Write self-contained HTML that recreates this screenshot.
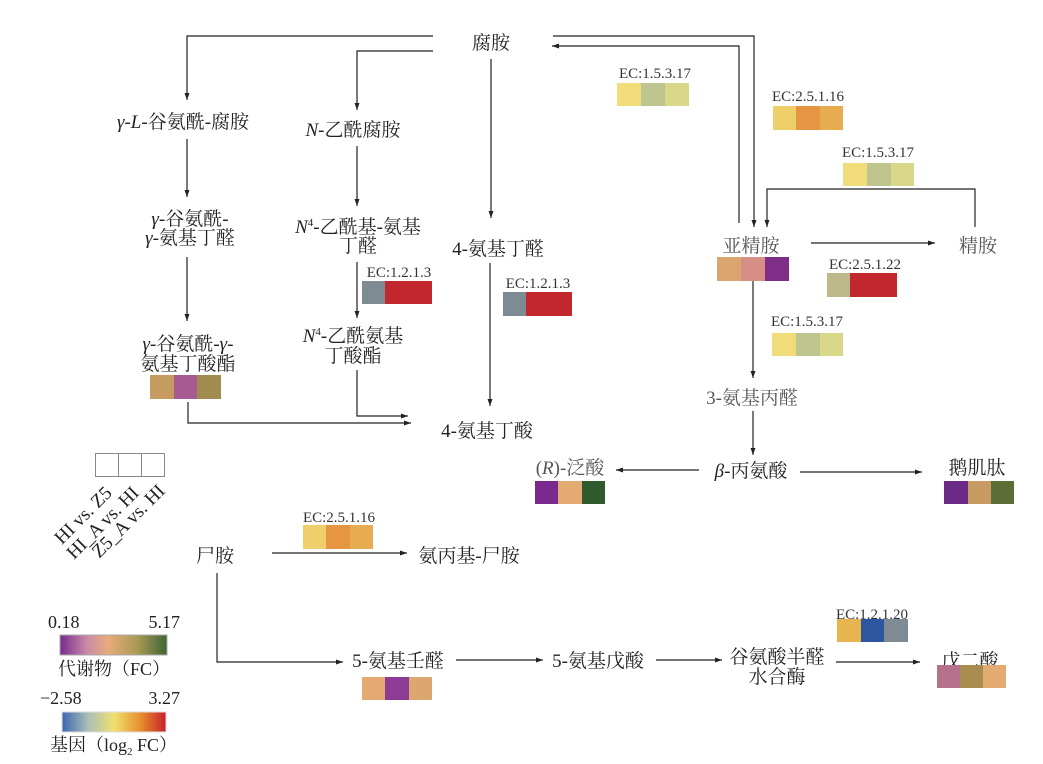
<!DOCTYPE html>
<html><head><meta charset="utf-8"><style>
html,body{margin:0;padding:0;background:#fff;}
svg{display:block;}
text{font-family:"Liberation Serif","Noto Serif CJK SC",serif;fill:#222;}
.n{font-size:19px;text-anchor:middle;}
.g{fill:#555;}
.ec{font-size:15px;text-anchor:middle;fill:#333;}
.lg{font-size:18px;}
.rl{font-size:19px;text-anchor:end;}
</style></head><body>
<svg width="1043" height="764" viewBox="0 0 1043 764" xmlns="http://www.w3.org/2000/svg">
<defs>
<marker id="a" markerWidth="8" markerHeight="8" refX="7" refY="4" orient="auto" markerUnits="userSpaceOnUse">
<path d="M0,1.5 L7,4 L0,6.5 Z" fill="#222"/></marker>
<linearGradient id="gm" x1="0" x2="1" y1="0" y2="0">
<stop offset="0" stop-color="#7a2a8c"/><stop offset="0.25" stop-color="#c98aa8"/><stop offset="0.45" stop-color="#e8ab7a"/><stop offset="0.72" stop-color="#a99a55"/><stop offset="1" stop-color="#3d6535"/></linearGradient>
<linearGradient id="gg" x1="0" x2="1" y1="0" y2="0">
<stop offset="0" stop-color="#3a66b0"/><stop offset="0.25" stop-color="#a9bfb9"/><stop offset="0.5" stop-color="#f0e070"/><stop offset="0.75" stop-color="#e8902e"/><stop offset="1" stop-color="#c8202a"/></linearGradient>
</defs>
<g fill="none" stroke="#222" stroke-width="1.2">
<polyline points="433,36 187,36 187,100" marker-end="url(#a)"/>
<polyline points="433,51 357,51 357,110" marker-end="url(#a)"/>
<line x1="491" y1="59" x2="491" y2="218" marker-end="url(#a)"/>
<line x1="187" y1="139" x2="187" y2="197" marker-end="url(#a)"/>
<line x1="187" y1="257" x2="187" y2="321" marker-end="url(#a)"/>
<polyline points="188,402 188,423 411,423" marker-end="url(#a)"/>
<line x1="357" y1="146" x2="357" y2="206" marker-end="url(#a)"/>
<line x1="357" y1="262" x2="357" y2="318" marker-end="url(#a)"/>
<polyline points="357,370 357,416 408,416" marker-end="url(#a)"/>
<line x1="490" y1="263" x2="490" y2="406" marker-end="url(#a)"/>
<polyline points="553,36 754,36 754,227" marker-end="url(#a)"/>
<polyline points="739,223 739,46 552,46" marker-end="url(#a)"/>
<polyline points="975,227 975,189 767,189 767,227" marker-end="url(#a)"/>
<line x1="811" y1="243" x2="935" y2="243" marker-end="url(#a)"/>
<line x1="753" y1="281" x2="753" y2="378" marker-end="url(#a)"/>
<line x1="753" y1="411" x2="753" y2="455" marker-end="url(#a)"/>
<line x1="699" y1="470" x2="616" y2="470" marker-end="url(#a)"/>
<line x1="800" y1="472" x2="922" y2="472" marker-end="url(#a)"/>
<line x1="272" y1="553" x2="407" y2="553" marker-end="url(#a)"/>
<polyline points="217,573 217,662 343,662" marker-end="url(#a)"/>
<line x1="456" y1="660" x2="543" y2="660" marker-end="url(#a)"/>
<line x1="656" y1="660" x2="722" y2="660" marker-end="url(#a)"/>
<line x1="836" y1="662" x2="920" y2="662" marker-end="url(#a)"/>
</g>

<!-- bars -->
<g stroke="none">
<rect x="150" y="375" width="24" height="24" fill="#c59b5f"/><rect x="174" y="375" width="23" height="24" fill="#a85a92"/><rect x="197" y="375" width="24" height="24" fill="#a08c4e"/>
<rect x="362" y="281" width="23" height="23" fill="#7f8b93"/><rect x="385" y="281" width="47" height="23" fill="#c1272d"/>
<rect x="503" y="292" width="23" height="24" fill="#7f8b93"/><rect x="526" y="292" width="46" height="24" fill="#c1272d"/>
<rect x="617" y="83" width="24" height="23" fill="#f0dc78"/><rect x="641" y="83" width="24" height="23" fill="#bfc58f"/><rect x="665" y="83" width="24" height="23" fill="#d9d88a"/>
<rect x="773" y="106" width="23" height="24" fill="#efcf6a"/><rect x="796" y="106" width="24" height="24" fill="#e69642"/><rect x="820" y="106" width="23" height="24" fill="#e8ac50"/>
<rect x="843" y="163" width="24" height="23" fill="#f0dc78"/><rect x="867" y="163" width="24" height="23" fill="#bfc58f"/><rect x="891" y="163" width="23" height="23" fill="#d9d88a"/>
<rect x="717" y="257" width="24" height="24" fill="#dba56f"/><rect x="741" y="257" width="24" height="24" fill="#d78e86"/><rect x="765" y="257" width="24" height="24" fill="#7f2e88"/>
<rect x="827" y="273" width="23" height="24" fill="#bdb88a"/><rect x="850" y="273" width="47" height="24" fill="#c1272d"/>
<rect x="772" y="333" width="24" height="23" fill="#f0dc78"/><rect x="796" y="333" width="24" height="23" fill="#bfc58f"/><rect x="820" y="333" width="23" height="23" fill="#d9d88a"/>
<rect x="535" y="481" width="23" height="23" fill="#7a2a8c"/><rect x="558" y="481" width="24" height="23" fill="#e3ab72"/><rect x="582" y="481" width="23" height="23" fill="#2e5a2e"/>
<rect x="944" y="481" width="24" height="23" fill="#6b2a85"/><rect x="968" y="481" width="23" height="23" fill="#c89b62"/><rect x="991" y="481" width="23" height="23" fill="#5a6e35"/>
<rect x="837" y="619" width="24" height="23" fill="#e8b450"/><rect x="861" y="619" width="23" height="23" fill="#2e55a0"/><rect x="884" y="619" width="24" height="23" fill="#7f8b93"/>
<rect x="303" y="525" width="23" height="24" fill="#efcf6a"/><rect x="326" y="525" width="24" height="24" fill="#e69642"/><rect x="350" y="525" width="23" height="24" fill="#e8ac50"/>
<rect x="362" y="677" width="23" height="23" fill="#e3aa72"/><rect x="385" y="677" width="24" height="23" fill="#8c3c94"/><rect x="409" y="677" width="23" height="23" fill="#dca670"/>
</g>
<g fill="none" stroke="#888" stroke-width="1">
<rect x="95.5" y="453.5" width="23" height="23"/><rect x="118.5" y="453.5" width="23" height="23"/><rect x="141.5" y="453.5" width="23" height="23"/>
</g>

<!-- node labels -->
<text class="n" x="491" y="49">腐胺</text>
<text class="n" x="183" y="128"><tspan font-style="italic">γ</tspan>-<tspan font-style="italic">L</tspan>-谷氨酰-腐胺</text>
<text class="n" x="353" y="136"><tspan font-style="italic">N</tspan>-乙酰腐胺</text>
<text class="n" x="190" y="225"><tspan font-style="italic">γ</tspan>-谷氨酰-</text>
<text class="n" x="190" y="244"><tspan font-style="italic">γ</tspan>-氨基丁醛</text>
<text class="n" x="358" y="233"><tspan font-style="italic">N</tspan><tspan font-size="11" dy="-7">4</tspan><tspan dy="7">-乙酰基-氨基</tspan></text>
<text class="n" x="358" y="252">丁醛</text>
<text class="n" x="498" y="255">4-氨基丁醛</text>
<text class="n" x="188" y="350"><tspan font-style="italic">γ</tspan>-谷氨酰-<tspan font-style="italic">γ</tspan>-</text>
<text class="n" x="188" y="370">氨基丁酸酯</text>
<text class="n" x="353" y="342"><tspan font-style="italic">N</tspan><tspan font-size="11" dy="-7">4</tspan><tspan dy="7">-乙酰氨基</tspan></text>
<text class="n" x="353" y="362">丁酸酯</text>
<text class="n" x="487" y="437">4-氨基丁酸</text>
<text class="n g" x="751" y="252">亚精胺</text>
<text class="n g" x="978" y="252">精胺</text>
<text class="n g" x="752" y="404">3-氨基丙醛</text>
<text class="n" x="751" y="477"><tspan font-style="italic">β</tspan>-丙氨酸</text>
<text class="n g" x="570" y="474">(<tspan font-style="italic">R</tspan>)-泛酸</text>
<text class="n" x="977" y="474">鹅肌肽</text>
<text class="n" x="215" y="562">尸胺</text>
<text class="n" x="469" y="562">氨丙基-尸胺</text>
<text class="n" x="398" y="667">5-氨基壬醛</text>
<text class="n" x="598" y="667">5-氨基戊酸</text>
<text class="n" x="777" y="663">谷氨酸半醛</text>
<text class="n" x="777" y="683">水合酶</text>
<text class="n" x="970" y="667">戊二酸</text>
<g stroke="none">
<rect x="937" y="665" width="23" height="23" fill="#b5708a"/><rect x="960" y="665" width="23" height="23" fill="#a88c50"/><rect x="983" y="665" width="23" height="23" fill="#e3aa72"/>
</g>

<!-- EC labels -->
<text class="ec" x="399" y="277">EC:1.2.1.3</text>
<text class="ec" x="538" y="288">EC:1.2.1.3</text>
<text class="ec" x="655" y="78">EC:1.5.3.17</text>
<text class="ec" x="808" y="101">EC:2.5.1.16</text>
<text class="ec" x="878" y="157">EC:1.5.3.17</text>
<text class="ec" x="865" y="269">EC:2.5.1.22</text>
<text class="ec" x="807" y="326">EC:1.5.3.17</text>
<text class="ec" x="339" y="522">EC:2.5.1.16</text>
<text class="ec" x="872" y="619">EC:1.2.1.20</text>

<!-- rotated legend labels -->
<text class="rl" transform="translate(113,494) rotate(-45)">HI vs. Z5</text>
<text class="rl" transform="translate(140,494) rotate(-45)">HI_A vs. HI</text>
<text class="rl" transform="translate(166,492) rotate(-45)">Z5_A vs. HI</text>

<!-- legend -->
<text class="lg" x="48" y="628">0.18</text>
<text class="lg" x="180" y="628" text-anchor="end">5.17</text>
<rect x="60" y="635" width="107" height="20" fill="url(#gm)" stroke="#aaa" stroke-width="1"/>
<text class="lg" x="58" y="675">代谢物（FC）</text>
<text class="lg" x="40" y="704">−2.58</text>
<text class="lg" x="180" y="704" text-anchor="end">3.27</text>
<rect x="62" y="712" width="104" height="20" fill="url(#gg)" stroke="#ddd" stroke-width="1"/>
<text class="lg" x="50" y="751">基因（log<tspan font-size="11" dy="4">2</tspan><tspan dy="-4"> FC）</tspan></text>
</svg>
</body></html>
